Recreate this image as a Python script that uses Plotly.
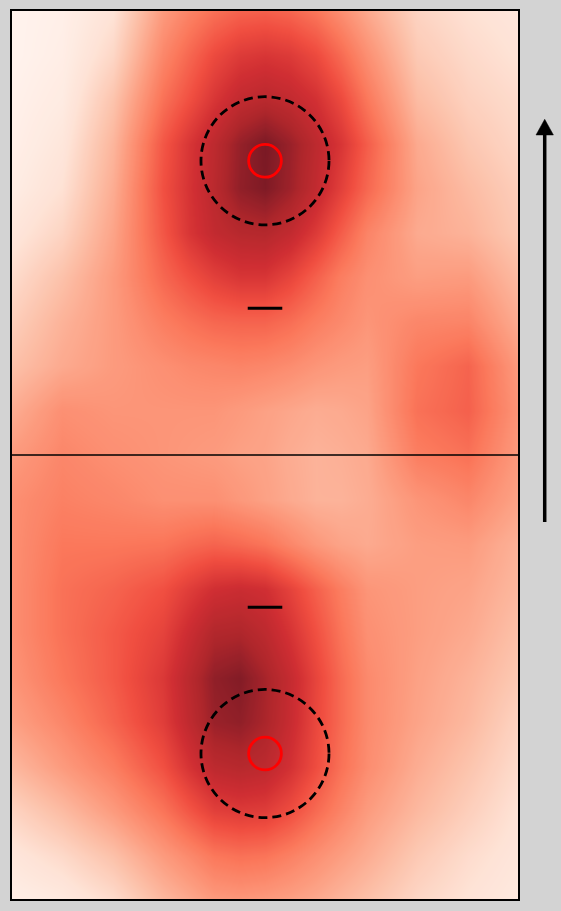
import plotly.graph_objects as go

# Grid of sample positions (field units: width 20, length 35)
x_grid = [0, 2, 4, 6, 7, 8, 9, 10, 11, 12, 13, 14, 16, 18, 20]
y_grid = [0, 1.75, 3.5, 5.25, 7, 8.75, 10.5, 12.25, 14, 15.75, 17.5,
          19.25, 21, 22.75, 24.5, 26.25, 28, 29.75, 31.5, 33.25, 35]

# Density values, rows from bottom (y=0) to top (y=35)
density = [
    [0.05, 0.08, 0.15, 0.28, 0.33, 0.38, 0.39, 0.38, 0.36, 0.33, 0.29, 0.25, 0.17, 0.12, 0.08],
    [0.10, 0.16, 0.25, 0.38, 0.44, 0.50, 0.52, 0.51, 0.47, 0.42, 0.37, 0.32, 0.22, 0.15, 0.10],
    [0.18, 0.27, 0.38, 0.51, 0.60, 0.68, 0.70, 0.69, 0.63, 0.54, 0.46, 0.38, 0.28, 0.20, 0.12],
    [0.28, 0.38, 0.48, 0.62, 0.73, 0.82, 0.84, 0.82, 0.74, 0.63, 0.52, 0.43, 0.32, 0.24, 0.15],
    [0.36, 0.45, 0.56, 0.69, 0.81, 0.92, 0.94, 0.88, 0.78, 0.65, 0.54, 0.44, 0.35, 0.28, 0.18],
    [0.40, 0.50, 0.59, 0.71, 0.83, 0.94, 0.97, 0.89, 0.79, 0.66, 0.54, 0.44, 0.36, 0.30, 0.22],
    [0.42, 0.52, 0.59, 0.67, 0.77, 0.86, 0.87, 0.82, 0.73, 0.62, 0.51, 0.42, 0.37, 0.33, 0.25],
    [0.42, 0.52, 0.56, 0.62, 0.69, 0.75, 0.77, 0.75, 0.67, 0.57, 0.48, 0.40, 0.37, 0.35, 0.28],
    [0.42, 0.50, 0.50, 0.51, 0.54, 0.56, 0.54, 0.51, 0.45, 0.39, 0.35, 0.33, 0.37, 0.38, 0.30],
    [0.42, 0.47, 0.45, 0.42, 0.42, 0.42, 0.39, 0.36, 0.33, 0.30, 0.30, 0.32, 0.40, 0.45, 0.35],
    [0.38, 0.45, 0.42, 0.40, 0.39, 0.38, 0.36, 0.35, 0.32, 0.30, 0.31, 0.33, 0.48, 0.52, 0.38],
    [0.32, 0.42, 0.40, 0.40, 0.40, 0.40, 0.38, 0.36, 0.34, 0.32, 0.33, 0.35, 0.52, 0.57, 0.40],
    [0.25, 0.33, 0.38, 0.42, 0.44, 0.45, 0.46, 0.45, 0.43, 0.40, 0.38, 0.37, 0.50, 0.56, 0.38],
    [0.20, 0.30, 0.38, 0.48, 0.52, 0.55, 0.56, 0.56, 0.53, 0.48, 0.44, 0.40, 0.45, 0.46, 0.32],
    [0.15, 0.25, 0.38, 0.55, 0.62, 0.68, 0.72, 0.72, 0.66, 0.57, 0.48, 0.42, 0.37, 0.38, 0.27],
    [0.10, 0.18, 0.35, 0.60, 0.72, 0.80, 0.84, 0.85, 0.80, 0.70, 0.58, 0.46, 0.33, 0.30, 0.22],
    [0.06, 0.13, 0.32, 0.62, 0.73, 0.83, 0.94, 0.98, 0.91, 0.80, 0.68, 0.55, 0.35, 0.27, 0.20],
    [0.04, 0.10, 0.29, 0.60, 0.72, 0.82, 0.93, 0.99, 0.92, 0.82, 0.72, 0.58, 0.33, 0.23, 0.17],
    [0.03, 0.07, 0.24, 0.52, 0.62, 0.72, 0.80, 0.83, 0.80, 0.74, 0.64, 0.50, 0.27, 0.19, 0.15],
    [0.02, 0.05, 0.17, 0.45, 0.55, 0.64, 0.70, 0.72, 0.70, 0.64, 0.54, 0.42, 0.22, 0.16, 0.12],
    [0.02, 0.04, 0.12, 0.38, 0.46, 0.52, 0.56, 0.57, 0.55, 0.50, 0.42, 0.33, 0.18, 0.13, 0.10],
]

# Field markings (field units)
FIELD_W = 20
FIELD_L = 35
POST_X = 10
POSTS_Y = [5.76, 29.07]
PENALTY_Y = [11.51, 23.27]
CENTRE_Y = 17.5
ZONE_R = 2.52
POST_R = 0.645
PENALTY_HALF = 0.68

fig = go.Figure()
fig.add_trace(go.Heatmap(
    x=x_grid, y=y_grid, z=density,
    colorscale="Reds", zmin=0, zmax=1, opacity=0.9,
    zsmooth="best", showscale=False, hoverinfo="skip",
))

shapes = []
# centre line
shapes.append(dict(type="line", xref="x", yref="y", x0=0, x1=FIELD_W,
                   y0=CENTRE_Y, y1=CENTRE_Y, line=dict(color="black", width=1.5)))
for py in PENALTY_Y:
    shapes.append(dict(type="line", xref="x", yref="y",
                       x0=POST_X - PENALTY_HALF, x1=POST_X + PENALTY_HALF,
                       y0=py, y1=py, line=dict(color="black", width=3)))
for py in POSTS_Y:
    shapes.append(dict(type="circle", xref="x", yref="y",
                       x0=POST_X - ZONE_R, x1=POST_X + ZONE_R,
                       y0=py - ZONE_R, y1=py + ZONE_R,
                       line=dict(color="black", width=2.8, dash="9px,5px")))
    shapes.append(dict(type="circle", xref="x", yref="y",
                       x0=POST_X - POST_R, x1=POST_X + POST_R,
                       y0=py - POST_R, y1=py + POST_R,
                       line=dict(color="red", width=2.8)))
# frame
shapes.append(dict(type="rect", xref="paper", yref="paper", x0=0, x1=1, y0=0, y1=1,
                   line=dict(color="black", width=2)))
# direction arrow (outside plot, paper coords)
AX = 1.0506
shapes.append(dict(type="line", xref="paper", yref="paper", x0=AX, x1=AX,
                   y0=0.4247, y1=0.862, line=dict(color="black", width=3.5)))
shapes.append(dict(type="path", xref="paper", yref="paper",
                   path=f"M {AX-0.0171} 0.8596 L {AX} 0.8772 L {AX+0.0171} 0.8596 Z",
                   fillcolor="black", line=dict(color="black", width=0.5)))

fig.update_layout(
    width=561, height=911,
    margin=dict(l=11, r=42, t=10, b=11),
    paper_bgcolor="#d3d3d3", plot_bgcolor="white",
    xaxis=dict(range=[0, FIELD_W], visible=False, fixedrange=True),
    yaxis=dict(range=[0, FIELD_L], visible=False, fixedrange=True),
    shapes=shapes, showlegend=False,
)
fig.write_html("out.html")
